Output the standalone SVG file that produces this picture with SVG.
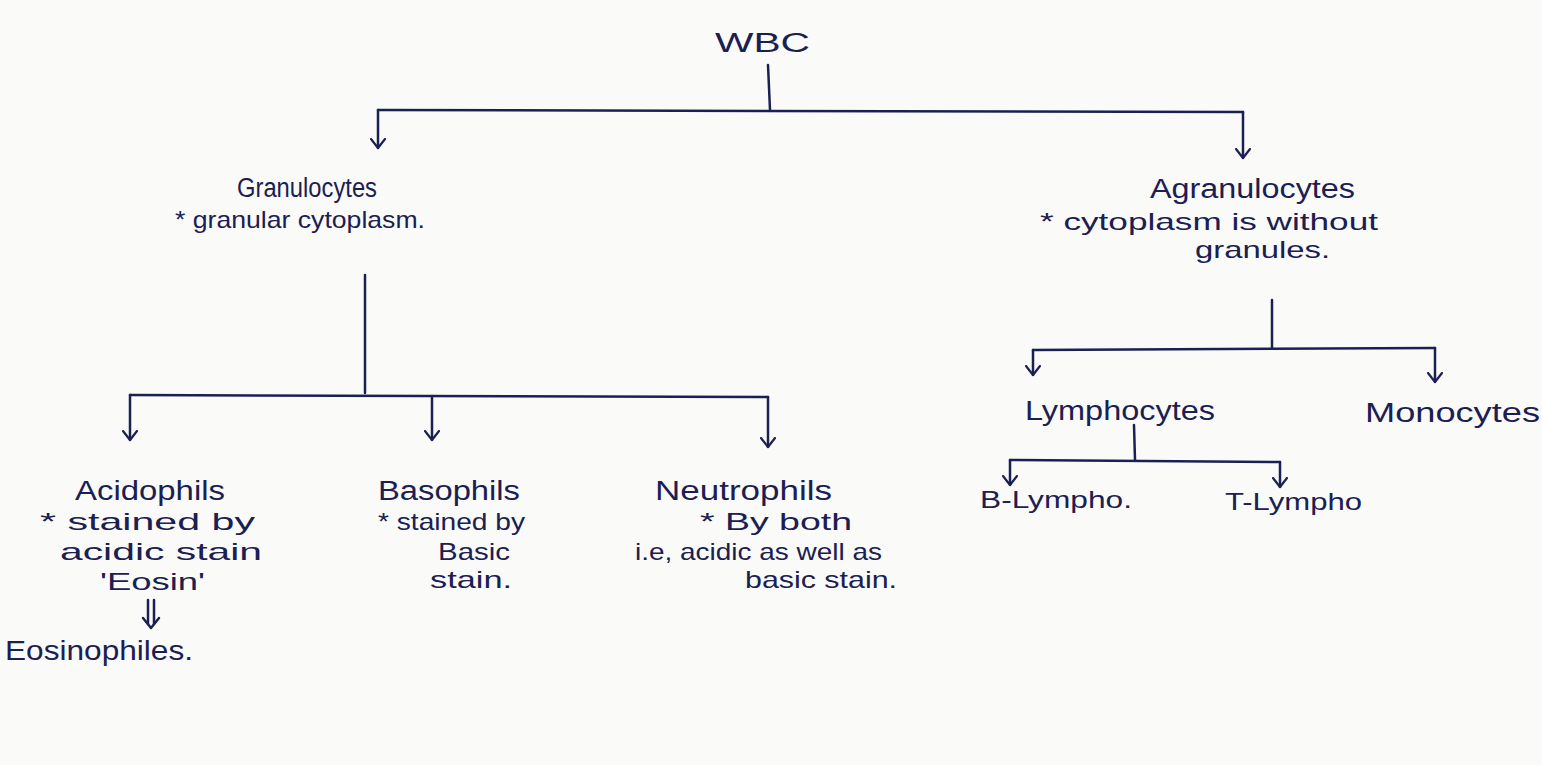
<svg xmlns="http://www.w3.org/2000/svg" width="1542" height="765" viewBox="0 0 1542 765">
<style>
.t{font-family:"Liberation Sans","DejaVu Sans",sans-serif;fill:#1b2052;font-size:27px}
.s{font-size:24px}
.c{stroke:#1b2052;stroke-width:2.5;fill:none;stroke-linecap:round;stroke-linejoin:round}
</style>
<defs>
<marker id="a" viewBox="-1 -8 11 16" refX="9" refY="0" markerWidth="11" markerHeight="16" markerUnits="userSpaceOnUse" orient="auto">
<path d="M0,-7 L9,0 L0,7" fill="none" stroke="#1b2052" stroke-width="2.2" stroke-linecap="round" stroke-linejoin="round"/>
</marker>
</defs>
<rect width="1542" height="765" fill="#fafaf9"/>
<g id="connectors" class="c">
<path d="M768,65 L770,110"/>
<path d="M378,110 L1243,112"/>
<path d="M378,110 L378,148" marker-end="url(#a)"/>
<path d="M1243,112 L1243,158" marker-end="url(#a)"/>
<path d="M365,275 L365,393"/>
<path d="M130,395 L768,397"/>
<path d="M130,395 L130,440" marker-end="url(#a)"/>
<path d="M432,396 L432,440" marker-end="url(#a)"/>
<path d="M768,397 L768,447" marker-end="url(#a)"/>
<path d="M1272,300 L1272,348"/>
<path d="M1033,350 L1435,348"/>
<path d="M1033,350 L1033,375" marker-end="url(#a)"/>
<path d="M1435,348 L1435,382" marker-end="url(#a)"/>
<path d="M1134,425 L1135,460"/>
<path d="M1010,460 L1280,462"/>
<path d="M1010,460 L1010,485" marker-end="url(#a)"/>
<path d="M1280,462 L1280,487" marker-end="url(#a)"/>
<g id="double-arrow">
<path d="M148,600 L148,624 M154,600 L154,624"/>
<path d="M143,618 L151,628 L159,618"/>
</g>
</g>
<g id="wbc"><text class="t" x="715" y="52" textLength="95" lengthAdjust="spacingAndGlyphs" font-size="32">WBC</text></g>
<g id="granulocytes">
<text class="t" x="237" y="197" textLength="140" lengthAdjust="spacingAndGlyphs">Granulocytes</text>
<text class="t s" x="175" y="228" textLength="250" lengthAdjust="spacingAndGlyphs">* granular cytoplasm.</text>
</g>
<g id="agranulocytes">
<text class="t" x="1150" y="198" textLength="205" lengthAdjust="spacingAndGlyphs">Agranulocytes</text>
<text class="t s" x="1040" y="230" textLength="338" lengthAdjust="spacingAndGlyphs">* cytoplasm is without</text>
<text class="t s" x="1195" y="258" textLength="135" lengthAdjust="spacingAndGlyphs">granules.</text>
</g>
<g id="acidophils">
<text class="t" x="75" y="500" textLength="150" lengthAdjust="spacingAndGlyphs">Acidophils</text>
<text class="t s" x="40" y="530" textLength="215" lengthAdjust="spacingAndGlyphs">* stained by</text>
<text class="t s" x="60" y="560" textLength="202" lengthAdjust="spacingAndGlyphs">acidic stain</text>
<text class="t s" x="100" y="590" textLength="105" lengthAdjust="spacingAndGlyphs">'Eosin'</text>
<text class="t" x="5" y="660" textLength="188" lengthAdjust="spacingAndGlyphs">Eosinophiles.</text>
</g>
<g id="basophils">
<text class="t" x="378" y="500" textLength="142" lengthAdjust="spacingAndGlyphs">Basophils</text>
<text class="t s" x="378" y="530" textLength="147" lengthAdjust="spacingAndGlyphs">* stained by</text>
<text class="t s" x="438" y="560" textLength="72" lengthAdjust="spacingAndGlyphs">Basic</text>
<text class="t s" x="430" y="588" textLength="82" lengthAdjust="spacingAndGlyphs">stain.</text>
</g>
<g id="neutrophils">
<text class="t" x="655" y="500" textLength="177" lengthAdjust="spacingAndGlyphs">Neutrophils</text>
<text class="t s" x="700" y="530" textLength="152" lengthAdjust="spacingAndGlyphs">* By both</text>
<text class="t s" x="635" y="560" textLength="247" lengthAdjust="spacingAndGlyphs">i.e, acidic as well as</text>
<text class="t s" x="745" y="588" textLength="152" lengthAdjust="spacingAndGlyphs">basic stain.</text>
</g>
<g id="lymphocytes"><text class="t" x="1025" y="420" textLength="190" lengthAdjust="spacingAndGlyphs">Lymphocytes</text></g>
<g id="monocytes"><text class="t" x="1365" y="422" textLength="175" lengthAdjust="spacingAndGlyphs">Monocytes</text></g>
<g id="b-lympho"><text class="t s" x="980" y="508" textLength="152" lengthAdjust="spacingAndGlyphs">B-Lympho.</text></g>
<g id="t-lympho"><text class="t s" x="1225" y="510" textLength="137" lengthAdjust="spacingAndGlyphs">T-Lympho</text></g>
</svg>
